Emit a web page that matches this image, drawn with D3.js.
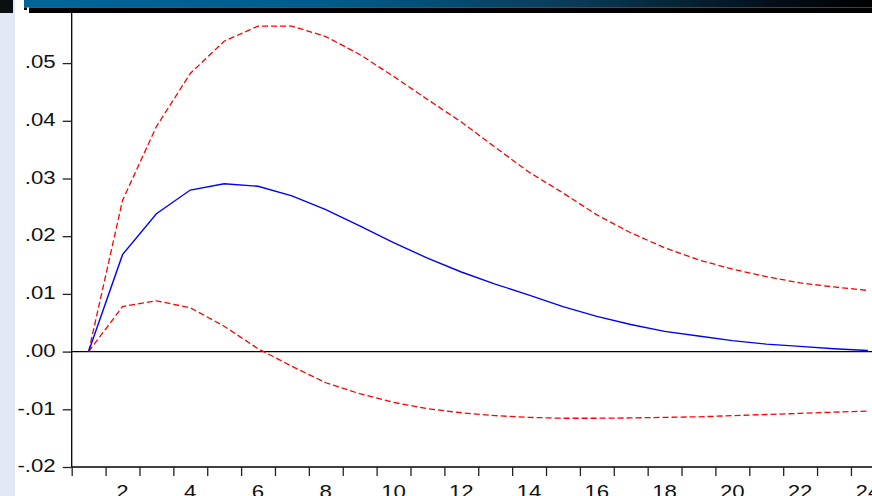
<!DOCTYPE html>
<html><head><meta charset="utf-8">
<script src="https://cdn.jsdelivr.net/npm/d3@7"></script>
<style>html,body{margin:0;padding:0;background:#fff;overflow:hidden}svg{display:block}</style>
</head><body>
<svg id="c" width="872" height="496"></svg>
<script>
const periods = [1,2,3,4,5,6,7,8,9,10,11,12,13,14,15,16,17,18,19,20,21,22,23,24];
const response = [0, 0.0168, 0.0239, 0.0280, 0.0291, 0.02865, 0.0270, 0.0246, 0.0218, 0.0189, 0.0162, 0.0138,
                  0.0117, 0.0098, 0.0078, 0.0061, 0.0047, 0.0035, 0.0027, 0.0019, 0.0013, 0.0009, 0.0005, 0.0002];
const upperBand = [0, 0.0262, 0.0390, 0.0482, 0.0538, 0.0564, 0.0564, 0.0546, 0.0515, 0.0477, 0.0437, 0.0398,
                   0.0354, 0.0311, 0.0275, 0.0237, 0.0206, 0.0180, 0.0159, 0.0143, 0.0130, 0.0119, 0.0112, 0.0106];
const lowerBand = [0, 0.0078, 0.0088, 0.0076, 0.0044, 0.0005, -0.00255, -0.0054, -0.0073, -0.0088, -0.0099, -0.0106,
                   -0.0111, -0.0114, -0.01155, -0.01155, -0.0115, -0.0114, -0.0113, -0.0111, -0.0109, -0.0107, -0.0105, -0.0103];
const yTicks = [-0.02, -0.01, 0, 0.01, 0.02, 0.03, 0.04, 0.05];
const yTickLabels = ["-.02", "-.01", ".00", ".01", ".02", ".03", ".04", ".05"];
const xTickMarks = d3.range(0.5, 25, 1);
const xTickLabels = [2,4,6,8,10,12,14,16,18,20,22,24];

const svg = d3.select("#c");
const x = d3.scaleLinear().domain([0.5, 24.5]).range([71.7, 71.7 + 24 * 33.88]);
const y = d3.scaleLinear().domain([-0.02, 0.06]).range([467, 467 - 0.08 * 5770]);
const font = "'Liberation Sans', Arial, sans-serif";

// left strip
svg.append("rect").attr("x", 0).attr("y", 0).attr("width", 15).attr("height", 496).attr("fill", "#e2e8f5");

// zero line
svg.append("line").attr("x1", x(0.5)).attr("x2", 872).attr("y1", y(0)).attr("y2", y(0))
  .attr("stroke", "#000").attr("stroke-width", 1.2);

// y axis
const yAxis = svg.append("g").attr("transform", `translate(${x(0.5)},0)`)
  .call(d3.axisLeft(y).tickValues(yTicks).tickSize(9).tickFormat((d, i) => yTickLabels[i]).tickPadding(7));
yAxis.select(".domain").attr("d", `M0,13V${y(-0.02)}`).attr("stroke-width", 1.3);
yAxis.selectAll(".tick line").attr("stroke", "#222").attr("stroke-width", 1.3);
yAxis.selectAll(".tick text").attr("font-family", font).attr("font-size", 18.5).attr("fill", "#111")
  .attr("dy", null).attr("y", 4.7);

// x axis
const xAxis = svg.append("g").attr("transform", `translate(0,${y(-0.02)})`)
  .call(d3.axisBottom(x).tickValues(xTickMarks).tickSize(9).tickFormat(""));
xAxis.select(".domain").attr("d", `M${x(0.5)},0H872`).attr("stroke-width", 1.3);
xAxis.selectAll(".tick line").attr("stroke", "#222").attr("stroke-width", 1.3);
svg.append("g").selectAll("text").data(xTickLabels).join("text")
  .attr("x", d => x(d)).attr("y", y(-0.02) + 30.5).attr("text-anchor", "middle")
  .attr("font-family", font).attr("font-size", 18.5).attr("fill", "#111").text(d => d);

// stretch texts horizontally
svg.selectAll("text").each(function () {
  const w = this.getComputedTextLength();
  d3.select(this).attr("textLength", w * 1.2).attr("lengthAdjust", "spacingAndGlyphs");
});

// lines
const line = vals => d3.line().x((d, i) => x(periods[i])).y(d => y(d))(vals);
svg.append("path").attr("d", line(upperBand)).attr("fill", "none").attr("stroke", "#ff0000")
  .attr("stroke-width", 1.3).attr("stroke-dasharray", "6,3");
svg.append("path").attr("d", line(lowerBand)).attr("fill", "none").attr("stroke", "#ff0000")
  .attr("stroke-width", 1.3).attr("stroke-dasharray", "6,3");
svg.append("path").attr("d", line(response)).attr("fill", "none").attr("stroke", "#0000ff")
  .attr("stroke-width", 1.4);

// header
const defs = svg.append("defs");
const g = defs.append("linearGradient").attr("id", "hdr").attr("x1", "0").attr("x2", "1").attr("y1", "0").attr("y2", "0");
[[0, "#006699"], [0.35, "#005d8c"], [0.65, "#0a3a58"], [0.88, "#03101a"], [1, "#000"]]
  .forEach(([o, c]) => g.append("stop").attr("offset", o).attr("stop-color", c));
svg.append("rect").attr("x", 15).attr("y", 0).attr("width", 9).attr("height", 13).attr("fill", "#fff");
svg.append("rect").attr("x", 24).attr("y", 0).attr("width", 848).attr("height", 7.5).attr("fill", "url(#hdr)");
svg.append("rect").attr("x", 29).attr("y", 7.5).attr("width", 843).attr("height", 5.5).attr("fill", "#000");
svg.append("rect").attr("x", 24).attr("y", 7.5).attr("width", 3).attr("height", 2.5).attr("fill", "#000");
svg.append("rect").attr("x", 0).attr("y", 0).attr("width", 13).attr("height", 13).attr("fill", "#0b0f12");
</script>
</body></html>
